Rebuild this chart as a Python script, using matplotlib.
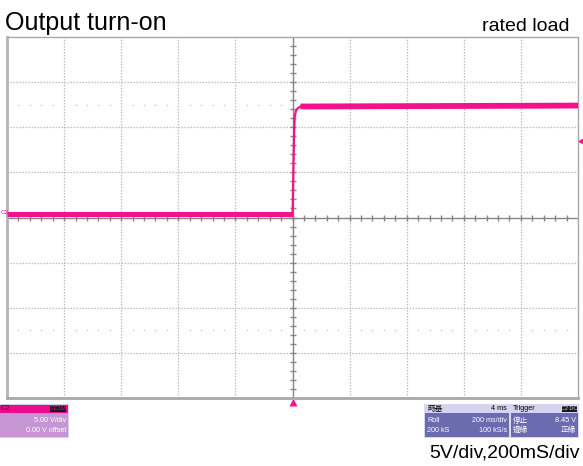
import matplotlib.pyplot as plt
from matplotlib.patches import Rectangle

# scope settings: 200 ms/div, 5 V/div, 10 x 8 divisions
t_per_div = 200
v_per_div = 5
n_hdiv = 10
n_vdiv = 8

# trace (ms, V)
t_low = [-1000, 0]
v_low = [0.44, 0.44]
t_rise = [0, 1, 2, 4, 6, 8, 12, 18, 28]
v_rise = [0.44, 1.5, 3.5, 7.0, 9.8, 11.2, 11.8, 12.1, 12.3]
t_high = [28, 1000]
v_high = [12.3, 12.4]
trig_level = 8.45

trace = "#f5118a"
grid_c = "#bdbdbd"
axis_c = "#858585"

plt.rcParams['font.family'] = ['Liberation Sans', 'Noto Sans CJK TC', 'DejaVu Sans']

fig = plt.figure(figsize=(5.83, 4.66), dpi=100)
ax = fig.add_axes([7 / 583, 68 / 466, 571 / 583, 361 / 466])
xmax = t_per_div * n_hdiv / 2
ymax = v_per_div * n_vdiv / 2
ax.set_xlim(-xmax, xmax)
ax.set_ylim(-ymax, ymax)
ax.set_xticks([])
ax.set_yticks([])
for s in ax.spines.values():
    s.set_color("#a8a8a8")
    s.set_linewidth(1.0)
ax.spines['left'].set_linewidth(2.0)
ax.spines['bottom'].set_linewidth(2.0)
ax.spines['left'].set_color("#b4b4b4")

# dotted grid
for i in range(1, n_hdiv):
    x = -xmax + i * t_per_div
    if x != 0:
        ax.axvline(x, color=grid_c, lw=0.9, ls=(0, (1.2, 1.2)), zorder=1)
for j in range(1, n_vdiv):
    y = -ymax + j * v_per_div
    if y != 0:
        ax.axhline(y, color=grid_c, lw=0.9, ls=(0, (1.2, 1.2)), zorder=1)

# dot rows at +-2.5 div
dots_x = [-xmax + k * t_per_div / 5 for k in range(1, n_hdiv * 5) if k % 5 != 0]
for yy in (2.5 * v_per_div, -2.5 * v_per_div):
    ax.plot(dots_x, [yy] * len(dots_x), ls="none", marker="s", ms=1.0,
            color="#c4c4c4", mec="none", zorder=1)

# center cross with minor ticks
ax.axhline(0, color=axis_c, lw=1.0, zorder=2)
ax.axvline(0, color=axis_c, lw=1.0, zorder=2)
tx = [-xmax + k * t_per_div / 5 for k in range(1, n_hdiv * 5)]
ty = [-ymax + k * v_per_div / 5 for k in range(1, n_vdiv * 5)]
ax.plot(tx, [0] * len(tx), ls="none", marker="|", ms=5, mew=1.0, color=axis_c, zorder=2)
ax.plot([0] * len(ty), ty, ls="none", marker="_", ms=5, mew=1.0, color=axis_c, zorder=2)

# trace
ax.plot(t_low, v_low, color=trace, lw=3.6, solid_capstyle="butt", zorder=3)
ax.plot(t_high, v_high, color=trace, lw=4.2, solid_capstyle="butt", zorder=3)
ax.plot(t_rise, v_rise, color=trace, lw=1.6, zorder=3)

# markers
ax.plot([0], [-ymax - 0.45], marker="^", ms=6, color=trace, mec="none", clip_on=False)
ax.plot([xmax + 8], [trig_level], marker="<", ms=5, color=trace, mec="none", clip_on=False)
fig.text(0.5 / 583, 1 - 213 / 466, "C2", fontsize=4.5, color=trace, ha="left", va="center")

# title texts
fig.text(5 / 583, 1 - 30 / 466, "Output turn-on", fontsize=18, ha="left", va="baseline")
fig.text(569 / 583, 1 - 31 / 466, "rated load", fontsize=14, ha="right", va="baseline")
fig.text(580 / 583, 1 - 458 / 466, "5V/div,200mS/div", fontsize=14, ha="right", va="baseline")


def frect(x0, y0, x1, y1, color, z=5):
    # rectangle in pixel coords (y from top)
    fig.patches.append(Rectangle((x0 / 583, 1 - y1 / 466), (x1 - x0) / 583, (y1 - y0) / 466,
                                 transform=fig.transFigure, facecolor=color,
                                 edgecolor="none", zorder=z))


def ftext(x, y, s, color="white", ha="left", size=5.2):
    fig.text(x / 583, 1 - y / 466, s, fontsize=size, color=color, ha=ha, va="center", zorder=10)


# channel box
frect(0, 404, 69, 438, "#d2d2e6")
frect(0, 405, 68, 413, "#ee0a8a")
frect(0, 413, 68, 437, "#c596d3")
frect(50, 406, 66, 412, "#1a1a1a")
ftext(1, 409, "C2", color="#3a0a30", size=5.5)
ftext(58, 409, "DC1M", color="#ee0a8a", ha="center", size=4)
ftext(66, 421, "5.00 V/div", ha="right")
ftext(66, 430, "0.00 V offset", ha="right")

# timebase box
frect(424, 404, 510, 438, "#d8d8ec")
frect(425, 405, 509, 413, "#d4d4f0")
frect(425, 413, 509, 437, "#6b6bb0")
ftext(427, 409, "時基", color="black", size=5.5)
ftext(507, 409, "4 ms", color="black", ha="right")
ftext(427, 421, "Roll")
ftext(507, 421, "200 ms/div", ha="right")
ftext(427, 430, "200 kS")
ftext(507, 430, "100 kS/s", ha="right")

# trigger box
frect(510, 404, 579, 438, "#d8d8ec")
frect(511, 405, 578, 413, "#d4d4f0")
frect(511, 413, 578, 437, "#6b6bb0")
frect(562, 406, 577, 412, "#1a1a1a")
ftext(513, 409, "Trigger", color="black")
ftext(569.5, 409, "C2 DC", color="#d4d4f0", ha="center", size=4)
ftext(513, 421, "停止", size=5.5)
ftext(576, 421, "8.45 V", ha="right")
ftext(513, 430, "邊緣", size=5.5)
ftext(576, 430, "正緣", ha="right", size=5.5)

fig.savefig("out.png", dpi=100)
